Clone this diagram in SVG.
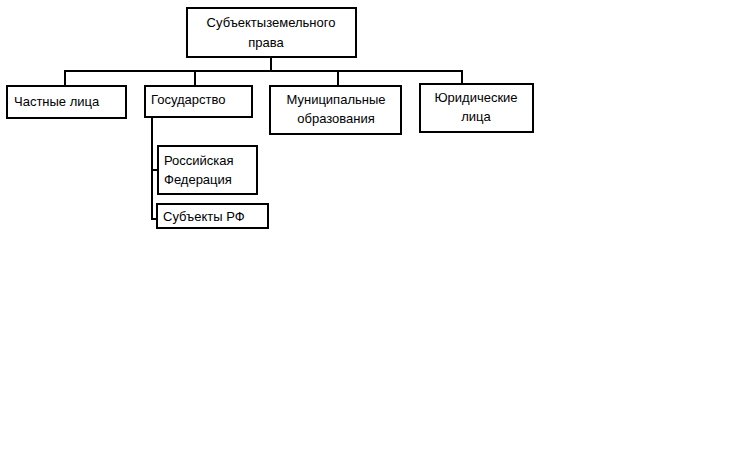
<svg xmlns="http://www.w3.org/2000/svg" width="741" height="452" viewBox="0 0 741 452">
<style>
rect{fill:#fff;stroke:#000;stroke-width:2}
line{stroke:#000;stroke-width:2}
text{font-family:"Liberation Sans",Arial,sans-serif;font-size:13px;fill:#000}
</style>
<rect x="0" y="0" width="741" height="452" style="stroke:none"/>
<g id="connectors">
<line x1="271" y1="57" x2="271" y2="71"/>
<line x1="65" y1="71" x2="462" y2="71"/>
<line x1="65" y1="70" x2="65" y2="86"/>
<line x1="195" y1="70" x2="195" y2="86"/>
<line x1="338" y1="70" x2="338" y2="86"/>
<line x1="462" y1="70" x2="462" y2="84"/>
<line x1="152" y1="117" x2="152" y2="220"/>
<line x1="151" y1="170" x2="158" y2="170"/>
<line x1="151" y1="219" x2="158" y2="219"/>
</g>
<g id="root"><rect x="187" y="8" width="169" height="49"/><text x="271" y="27" text-anchor="middle">Субъектыземельного</text><text x="266" y="47" text-anchor="middle">права</text></g>
<g id="private"><rect x="7" y="86" width="119" height="32"/><text x="14" y="106">Частные лица</text></g>
<g id="state"><rect x="145" y="86" width="107" height="31"/><text x="151" y="104">Государство</text></g>
<g id="munic"><rect x="270" y="86" width="131" height="48"/><text x="336" y="104" text-anchor="middle">Муниципальные</text><text x="336" y="123" text-anchor="middle">образования</text></g>
<g id="legal"><rect x="420" y="84" width="113" height="48"/><text x="476" y="102" text-anchor="middle">Юридические</text><text x="476" y="121" text-anchor="middle">лица</text></g>
<g id="rf"><rect x="158" y="146" width="99" height="48"/><text x="164" y="165">Российская</text><text x="164" y="184">Федерация</text></g>
<g id="subj"><rect x="157" y="204" width="111" height="24"/><text x="163" y="221">Субъекты РФ</text></g>
</svg>
